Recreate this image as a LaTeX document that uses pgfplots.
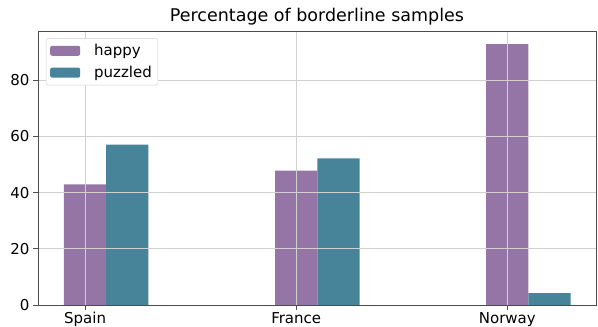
\documentclass[border=0pt]{standalone}
\usepackage{pgfplots}
\pgfplotsset{compat=1.18}
\usepackage{fontspec}
\setmainfont{DejaVu Sans}
\definecolor{happyc}{HTML}{9575A5}
\definecolor{puzzc}{HTML}{488499}
\definecolor{gridc}{HTML}{D0D0D0}
\begin{document}
\begin{tikzpicture}
\useasboundingbox (-38pt,-22pt) rectangle (560pt,305pt);
\begin{axis}[
  scale only axis,
  width=558pt, height=274pt,
  xmin=-0.223, xmax=2.42,
  ymin=0, ymax=97.5,
  xtick={0,1,2},
  xticklabels={Spain,France,Norway},
  ytick={0,20,40,60,80},
  grid=major,
  major grid style={gridc, line width=0.8pt},
  axis line style={black!70, line width=0.8pt},
  tick align=outside,
  major tick length=5pt,
  xtick pos=left, ytick pos=left,
  tick style={black!70, line width=0.8pt},
  /pgf/number format/assume math mode=true,
  ticklabel style={font=\fontsize{15}{17}\selectfont},
  xticklabel style={yshift=1pt},
  title={Percentage of borderline samples},
  title style={font=\fontsize{17.5}{20}\selectfont, yshift=-4pt},
  axis on top,
  legend style={at={(0.0143,0.974)}, anchor=north west,
    draw=gridc, rounded corners=2pt, fill=white,
    font=\fontsize{15}{17}\selectfont, row sep=5pt, column sep=12pt, inner sep=4pt},
  legend cell align=left,
  legend image code/.code={\fill[#1] (2pt,-5pt) rectangle (32pt,5pt);},
]
\addplot[ybar, bar width=42.2pt, bar shift=0pt, fill=happyc, draw=none] coordinates {(0,42.9) (1,47.8) (2,92.8)};
\addlegendentry{happy}
\addplot[ybar, bar width=42.2pt, bar shift=42.2pt, fill=puzzc, draw=none] coordinates {(0,57.1) (1,52.2) (2,4.2)};
\addlegendentry{puzzled}
\end{axis}
\end{tikzpicture}
\end{document}
